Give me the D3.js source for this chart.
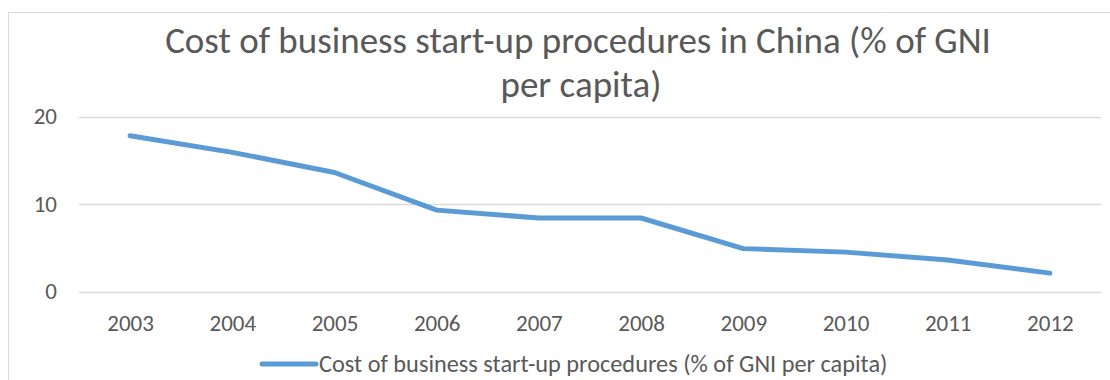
<!DOCTYPE html>
<html>
<head>
<meta charset="utf-8">
<script src="https://cdn.jsdelivr.net/npm/d3@7"></script>
<style>
  html, body { margin: 0; padding: 0; background: #fff; }
  svg { display: block; font-family: Calibri, Carlito, Lato, "Open Sans", sans-serif; }
</style>
</head>
<body>
<svg id="chart" width="1110" height="380"></svg>
<script>
// Series data
const years = ["2003", "2004", "2005", "2006", "2007", "2008", "2009", "2010", "2011", "2012"];
const costValues = [17.8, 15.9, 13.6, 9.3, 8.4, 8.4, 4.9, 4.5, 3.6, 2.1];
const yTicks = [0, 10, 20];
const titleLines = ["Cost of business start-up procedures in China (% of GNI", "per capita)"];
const seriesName = "Cost of business start-up procedures (% of GNI per capita)";

const W = 1110, H = 380;
const margin = { left: 79, right: 9, top: 116.5, bottom: 88.5 };
const textColor = "#595959";
const lineColor = "#5b9bd5";

const svg = d3.select("#chart");

// Chart area border
svg.append("rect")
  .attr("x", 8.5).attr("y", 12.5)
  .attr("width", W + 20).attr("height", H + 20)
  .attr("fill", "none").attr("stroke", "#d9d9d9").attr("stroke-width", 1);

const x = d3.scalePoint()
  .domain(years)
  .range([margin.left, W - margin.right])
  .padding(0.5);

const y = d3.scaleLinear()
  .domain([0, 20])
  .range([H - margin.bottom, margin.top]);

// Title
const title = svg.append("text")
  .attr("text-anchor", "middle")
  .attr("fill", textColor)
  .style("font-size", "37px");
titleLines.forEach((t, i) => {
  title.append("tspan")
    .attr("x", i === 0 ? 578 : 581)
    .attr("y", 53 + i * 44)
    .text(t);
});

// Gridlines
svg.append("g")
  .selectAll("line")
  .data(yTicks)
  .join("line")
  .attr("x1", margin.left)
  .attr("x2", W - margin.right)
  .attr("y1", d => Math.round(y(d)) + 0.5)
  .attr("y2", d => Math.round(y(d)) + 0.5)
  .attr("stroke", "#d9d9d9")
  .attr("stroke-width", 1.5);

// Y axis labels
const yAxis = d3.axisLeft(y).tickValues(yTicks).tickSize(0).tickPadding(0);
svg.append("g")
  .attr("transform", `translate(57,0)`)
  .call(yAxis)
  .call(g => g.select(".domain").remove())
  .call(g => g.selectAll("text")
    .attr("fill", textColor)
    .style("font-size", "23px")
    .style("font-family", "Calibri, Carlito, Lato, sans-serif"));

// X axis labels
const xAxis = d3.axisBottom(x).tickSize(0).tickPadding(0);
svg.append("g")
  .attr("transform", `translate(0,${H - margin.bottom})`)
  .call(xAxis)
  .call(g => g.select(".domain").remove())
  .call(g => g.selectAll("text")
    .attr("dy", null)
    .attr("y", 39)
    .attr("fill", textColor)
    .style("font-size", "23px")
    .style("font-family", "Calibri, Carlito, Lato, sans-serif"));

// Series line
const line = d3.line()
  .x((d, i) => x(years[i]))
  .y(d => y(d));

svg.append("path")
  .datum(costValues)
  .attr("d", line)
  .attr("fill", "none")
  .attr("stroke", lineColor)
  .attr("stroke-width", 5)
  .attr("stroke-linecap", "round")
  .attr("stroke-linejoin", "round");

// Legend
const legend = svg.append("g").attr("transform", "translate(0,364)");
legend.append("line")
  .attr("x1", 262).attr("x2", 316)
  .attr("y1", 0).attr("y2", 0)
  .attr("stroke", lineColor)
  .attr("stroke-width", 5)
  .attr("stroke-linecap", "round");
legend.append("text")
  .attr("x", 319)
  .attr("y", 8)
  .attr("fill", textColor)
  .style("font-size", "24.3px")
  .text(seriesName);
</script>
</body>
</html>
